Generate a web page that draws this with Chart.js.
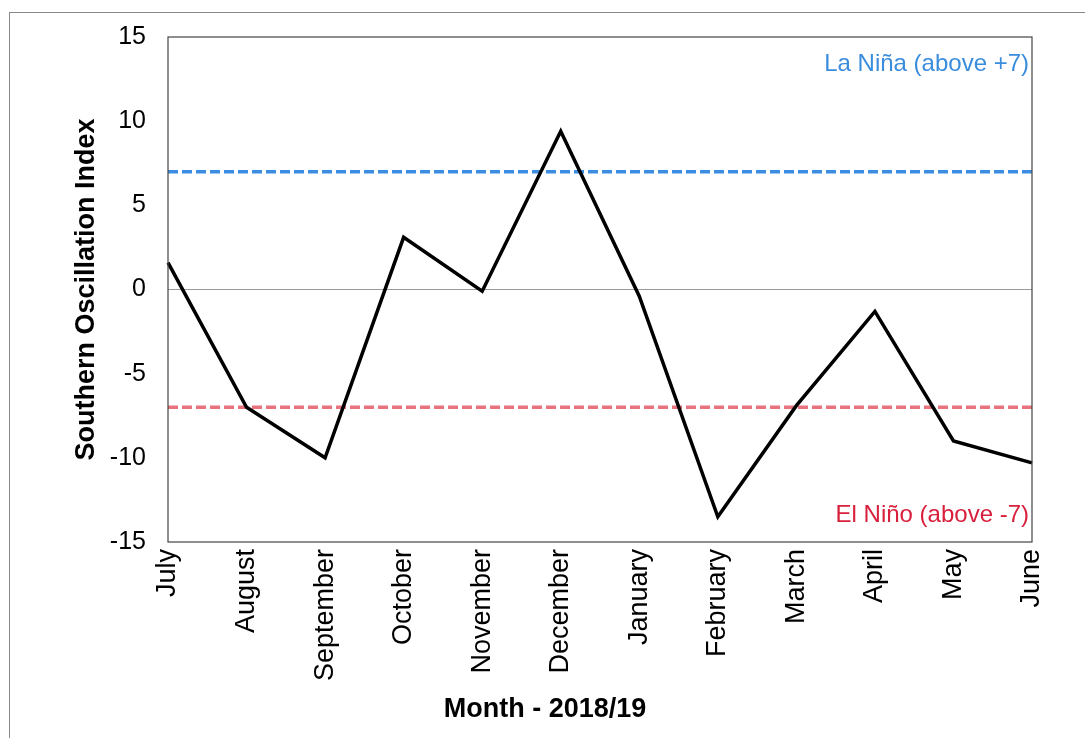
<!DOCTYPE html>
<html>
<head>
<meta charset="utf-8">
<script src="https://cdn.jsdelivr.net/npm/chart.js@4.4.1/dist/chart.umd.min.js"></script>
<style>
  html, body { margin: 0; padding: 0; background: #fff; }
  #wrap { width: 1085px; height: 738px; }
</style>
</head>
<body>
<div id="wrap"><canvas id="soiChart" width="1085" height="738"></canvas></div>
<script>
const months = [
  "July", "August", "September", "October", "November", "December",
  "January", "February", "March", "April", "May", "June",
];
const soiValues = [1.6, -7.0, -10.0, 3.1, -0.1, 9.4, -0.4, -13.5, -6.9, -1.3, -9.0, -10.3];
const yTicks = [-15, -10, -5, 0, 5, 10, 15];
const laNinaLevel = 7;
const elNinoLevel = -7;

const FONT = "Arial, 'Liberation Sans', sans-serif";

const extras = {
  id: "extras",
  beforeDraw(chart) {
    const { ctx } = chart;
    ctx.save();
    ctx.fillStyle = "#fff";
    ctx.fillRect(0, 0, chart.width, chart.height);
    // outer frame of the picture
    ctx.strokeStyle = "#8a8a8a";
    ctx.lineWidth = 1;
    ctx.strokeRect(9.5, 12.5, chart.width + 20, chart.height + 20);
    ctx.restore();
  },
  beforeDatasetsDraw(chart) {
    const { ctx, chartArea: { left, right }, scales: { y } } = chart;
    const lines = [
      { value: laNinaLevel, color: "#3a8de3" },
      { value: elNinoLevel, color: "#e8737f" },
    ];
    ctx.save();
    ctx.lineWidth = 3.5;
    ctx.setLineDash([10, 4]);
    lines.forEach(({ value, color }) => {
      const py = y.getPixelForValue(value);
      ctx.strokeStyle = color;
      ctx.beginPath();
      ctx.moveTo(left, py);
      ctx.lineTo(right, py);
      ctx.stroke();
    });
    ctx.restore();
  },
  afterDraw(chart) {
    const { ctx, chartArea: { left, right, top, bottom } } = chart;
    ctx.save();
    // plot border
    ctx.strokeStyle = "#444";
    ctx.lineWidth = 1.2;
    ctx.strokeRect(left, top, right - left, bottom - top);

    // annotations
    ctx.font = "24px " + FONT;
    ctx.textAlign = "right";
    ctx.textBaseline = "middle";
    ctx.fillStyle = "#3a8ddc";
    ctx.fillText("La Niña (above +7)", right - 3, 64);
    ctx.fillStyle = "#d8203c";
    ctx.fillText("El Niño (above -7)", right - 3, 515);

    // axis titles
    ctx.fillStyle = "#000";
    ctx.font = "bold 27px " + FONT;
    ctx.textAlign = "center";
    ctx.fillText("Month - 2018/19", 545, 710);
    ctx.translate(87, (top + bottom) / 2);
    ctx.rotate(-Math.PI / 2);
    ctx.fillText("Southern Oscillation Index", 0, 0);
    ctx.restore();
  },
};

const data = {
  labels: months,
  datasets: [
    {
      label: "SOI",
      data: soiValues,
      borderColor: "#000",
      borderWidth: 3.5,
      pointRadius: 0,
      tension: 0,
      fill: false,
    },
  ],
};

const config = {
  type: "line",
  data: data,
  options: {
    responsive: false,
    animation: false,
    devicePixelRatio: 1,
    layout: { padding: { top: 37, right: 53, left: 0, bottom: 0 } },
    plugins: {
      legend: { display: false },
      title: { display: false },
      tooltip: { enabled: false },
    },
    scales: {
      x: {
        offset: false,
        afterFit: (scale) => { scale.height = 196; },
        grid: { display: false, drawTicks: false },
        border: { display: false },
        ticks: {
          autoSkip: false,
          maxRotation: 90,
          minRotation: 90,
          padding: 7,
          color: "#000",
          font: { family: FONT, size: 27 },
        },
      },
      y: {
        min: -15,
        max: 15,
        afterFit: (scale) => { scale.width = 168; },
        afterBuildTicks: (scale) => { scale.ticks = yTicks.map((v) => ({ value: v })); },
        grid: {
          drawTicks: false,
          color: (c) => (c.tick && c.tick.value === 0 ? "#9a9a9a" : "rgba(0,0,0,0)"),
          lineWidth: 1,
        },
        border: { display: false },
        ticks: {
          padding: 22,
          color: "#000",
          font: { family: FONT, size: 25 },
        },
      },
    },
  },
  plugins: [extras],
};

new Chart(document.getElementById("soiChart"), config);
</script>
</body>
</html>
